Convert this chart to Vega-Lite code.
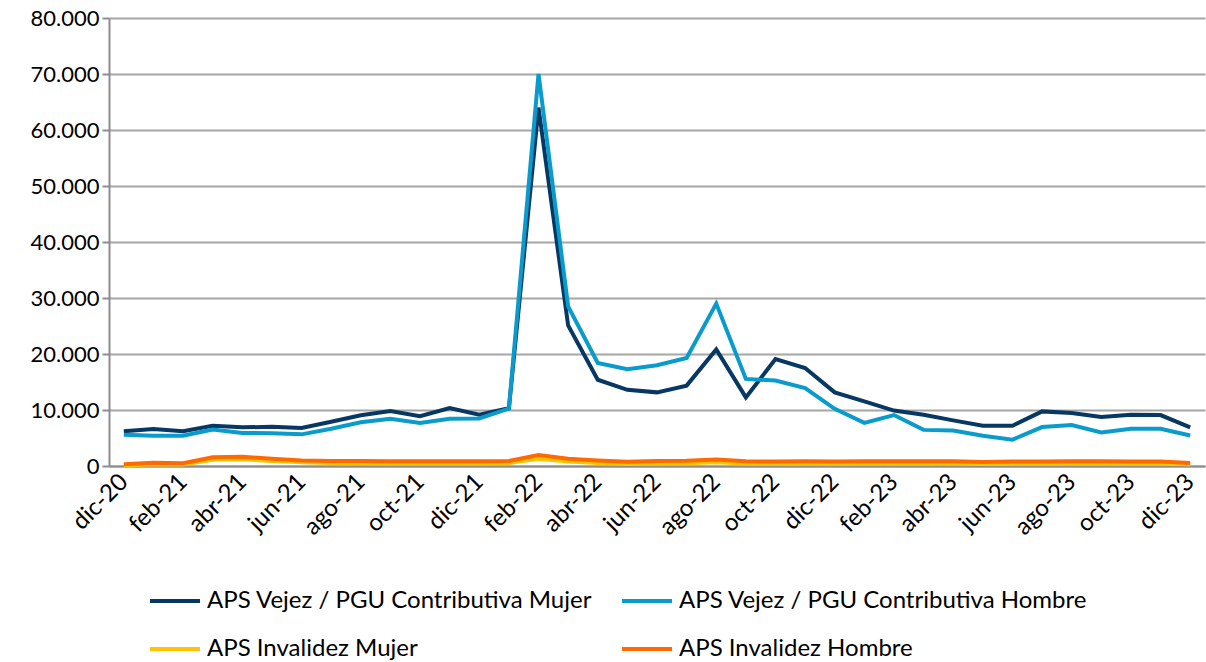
{
  "$schema": "https://vega.github.io/schema/vega-lite/v6.json",
  "autosize": {"type": "none"},
  "padding": {"left": 109, "top": 18, "right": 1, "bottom": 196},
  "width": 1096,
  "height": 448,
  "background": "white",
  "config": {
    "font": "Lato",
    "view": {"stroke": null}
  },
  "data": {
    "values": [
      {"mes":"dic-20","serie":"APS Vejez / PGU Contributiva Mujer","valor":6200},
      {"mes":"ene-21","serie":"APS Vejez / PGU Contributiva Mujer","valor":6600},
      {"mes":"feb-21","serie":"APS Vejez / PGU Contributiva Mujer","valor":6200},
      {"mes":"mar-21","serie":"APS Vejez / PGU Contributiva Mujer","valor":7200},
      {"mes":"abr-21","serie":"APS Vejez / PGU Contributiva Mujer","valor":6900},
      {"mes":"may-21","serie":"APS Vejez / PGU Contributiva Mujer","valor":7000},
      {"mes":"jun-21","serie":"APS Vejez / PGU Contributiva Mujer","valor":6800},
      {"mes":"jul-21","serie":"APS Vejez / PGU Contributiva Mujer","valor":7900},
      {"mes":"ago-21","serie":"APS Vejez / PGU Contributiva Mujer","valor":9050},
      {"mes":"sep-21","serie":"APS Vejez / PGU Contributiva Mujer","valor":9800},
      {"mes":"oct-21","serie":"APS Vejez / PGU Contributiva Mujer","valor":8900},
      {"mes":"nov-21","serie":"APS Vejez / PGU Contributiva Mujer","valor":10350},
      {"mes":"dic-21","serie":"APS Vejez / PGU Contributiva Mujer","valor":9150},
      {"mes":"ene-22","serie":"APS Vejez / PGU Contributiva Mujer","valor":10300},
      {"mes":"feb-22","serie":"APS Vejez / PGU Contributiva Mujer","valor":64000},
      {"mes":"mar-22","serie":"APS Vejez / PGU Contributiva Mujer","valor":25100},
      {"mes":"abr-22","serie":"APS Vejez / PGU Contributiva Mujer","valor":15400},
      {"mes":"may-22","serie":"APS Vejez / PGU Contributiva Mujer","valor":13600},
      {"mes":"jun-22","serie":"APS Vejez / PGU Contributiva Mujer","valor":13150},
      {"mes":"jul-22","serie":"APS Vejez / PGU Contributiva Mujer","valor":14350},
      {"mes":"ago-22","serie":"APS Vejez / PGU Contributiva Mujer","valor":20800},
      {"mes":"sep-22","serie":"APS Vejez / PGU Contributiva Mujer","valor":12250},
      {"mes":"oct-22","serie":"APS Vejez / PGU Contributiva Mujer","valor":19100},
      {"mes":"nov-22","serie":"APS Vejez / PGU Contributiva Mujer","valor":17500},
      {"mes":"dic-22","serie":"APS Vejez / PGU Contributiva Mujer","valor":13150},
      {"mes":"ene-23","serie":"APS Vejez / PGU Contributiva Mujer","valor":11550},
      {"mes":"feb-23","serie":"APS Vejez / PGU Contributiva Mujer","valor":9900},
      {"mes":"mar-23","serie":"APS Vejez / PGU Contributiva Mujer","valor":9150},
      {"mes":"abr-23","serie":"APS Vejez / PGU Contributiva Mujer","valor":8150},
      {"mes":"may-23","serie":"APS Vejez / PGU Contributiva Mujer","valor":7200},
      {"mes":"jun-23","serie":"APS Vejez / PGU Contributiva Mujer","valor":7200},
      {"mes":"jul-23","serie":"APS Vejez / PGU Contributiva Mujer","valor":9750},
      {"mes":"ago-23","serie":"APS Vejez / PGU Contributiva Mujer","valor":9450},
      {"mes":"sep-23","serie":"APS Vejez / PGU Contributiva Mujer","valor":8750},
      {"mes":"oct-23","serie":"APS Vejez / PGU Contributiva Mujer","valor":9150},
      {"mes":"nov-23","serie":"APS Vejez / PGU Contributiva Mujer","valor":9100},
      {"mes":"dic-23","serie":"APS Vejez / PGU Contributiva Mujer","valor":6900},

      {"mes":"dic-20","serie":"APS Vejez / PGU Contributiva Hombre","valor":5600},
      {"mes":"ene-21","serie":"APS Vejez / PGU Contributiva Hombre","valor":5400},
      {"mes":"feb-21","serie":"APS Vejez / PGU Contributiva Hombre","valor":5400},
      {"mes":"mar-21","serie":"APS Vejez / PGU Contributiva Hombre","valor":6500},
      {"mes":"abr-21","serie":"APS Vejez / PGU Contributiva Hombre","valor":5900},
      {"mes":"may-21","serie":"APS Vejez / PGU Contributiva Hombre","valor":5850},
      {"mes":"jun-21","serie":"APS Vejez / PGU Contributiva Hombre","valor":5650},
      {"mes":"jul-21","serie":"APS Vejez / PGU Contributiva Hombre","valor":6650},
      {"mes":"ago-21","serie":"APS Vejez / PGU Contributiva Hombre","valor":7800},
      {"mes":"sep-21","serie":"APS Vejez / PGU Contributiva Hombre","valor":8450},
      {"mes":"oct-21","serie":"APS Vejez / PGU Contributiva Hombre","valor":7700},
      {"mes":"nov-21","serie":"APS Vejez / PGU Contributiva Hombre","valor":8450},
      {"mes":"dic-21","serie":"APS Vejez / PGU Contributiva Hombre","valor":8500},
      {"mes":"ene-22","serie":"APS Vejez / PGU Contributiva Hombre","valor":10250},
      {"mes":"feb-22","serie":"APS Vejez / PGU Contributiva Hombre","valor":70000},
      {"mes":"mar-22","serie":"APS Vejez / PGU Contributiva Hombre","valor":28500},
      {"mes":"abr-22","serie":"APS Vejez / PGU Contributiva Hombre","valor":18400},
      {"mes":"may-22","serie":"APS Vejez / PGU Contributiva Hombre","valor":17300},
      {"mes":"jun-22","serie":"APS Vejez / PGU Contributiva Hombre","valor":18000},
      {"mes":"jul-22","serie":"APS Vejez / PGU Contributiva Hombre","valor":19300},
      {"mes":"ago-22","serie":"APS Vejez / PGU Contributiva Hombre","valor":29000},
      {"mes":"sep-22","serie":"APS Vejez / PGU Contributiva Hombre","valor":15550},
      {"mes":"oct-22","serie":"APS Vejez / PGU Contributiva Hombre","valor":15250},
      {"mes":"nov-22","serie":"APS Vejez / PGU Contributiva Hombre","valor":13900},
      {"mes":"dic-22","serie":"APS Vejez / PGU Contributiva Hombre","valor":10200},
      {"mes":"ene-23","serie":"APS Vejez / PGU Contributiva Hombre","valor":7700},
      {"mes":"feb-23","serie":"APS Vejez / PGU Contributiva Hombre","valor":9100},
      {"mes":"mar-23","serie":"APS Vejez / PGU Contributiva Hombre","valor":6450},
      {"mes":"abr-23","serie":"APS Vejez / PGU Contributiva Hombre","valor":6350},
      {"mes":"may-23","serie":"APS Vejez / PGU Contributiva Hombre","valor":5400},
      {"mes":"jun-23","serie":"APS Vejez / PGU Contributiva Hombre","valor":4700},
      {"mes":"jul-23","serie":"APS Vejez / PGU Contributiva Hombre","valor":6950},
      {"mes":"ago-23","serie":"APS Vejez / PGU Contributiva Hombre","valor":7300},
      {"mes":"sep-23","serie":"APS Vejez / PGU Contributiva Hombre","valor":6000},
      {"mes":"oct-23","serie":"APS Vejez / PGU Contributiva Hombre","valor":6650},
      {"mes":"nov-23","serie":"APS Vejez / PGU Contributiva Hombre","valor":6650},
      {"mes":"dic-23","serie":"APS Vejez / PGU Contributiva Hombre","valor":5450},

      {"mes":"dic-20","serie":"APS Invalidez Mujer","valor":100},
      {"mes":"ene-21","serie":"APS Invalidez Mujer","valor":300},
      {"mes":"feb-21","serie":"APS Invalidez Mujer","valor":250},
      {"mes":"mar-21","serie":"APS Invalidez Mujer","valor":1100},
      {"mes":"abr-21","serie":"APS Invalidez Mujer","valor":1200},
      {"mes":"may-21","serie":"APS Invalidez Mujer","valor":900},
      {"mes":"jun-21","serie":"APS Invalidez Mujer","valor":650},
      {"mes":"jul-21","serie":"APS Invalidez Mujer","valor":550},
      {"mes":"ago-21","serie":"APS Invalidez Mujer","valor":550},
      {"mes":"sep-21","serie":"APS Invalidez Mujer","valor":500},
      {"mes":"oct-21","serie":"APS Invalidez Mujer","valor":500},
      {"mes":"nov-21","serie":"APS Invalidez Mujer","valor":500},
      {"mes":"dic-21","serie":"APS Invalidez Mujer","valor":500},
      {"mes":"ene-22","serie":"APS Invalidez Mujer","valor":550},
      {"mes":"feb-22","serie":"APS Invalidez Mujer","valor":1300},
      {"mes":"mar-22","serie":"APS Invalidez Mujer","valor":800},
      {"mes":"abr-22","serie":"APS Invalidez Mujer","valor":550},
      {"mes":"may-22","serie":"APS Invalidez Mujer","valor":350},
      {"mes":"jun-22","serie":"APS Invalidez Mujer","valor":450},
      {"mes":"jul-22","serie":"APS Invalidez Mujer","valor":500},
      {"mes":"ago-22","serie":"APS Invalidez Mujer","valor":650},
      {"mes":"sep-22","serie":"APS Invalidez Mujer","valor":450},
      {"mes":"oct-22","serie":"APS Invalidez Mujer","valor":400},
      {"mes":"nov-22","serie":"APS Invalidez Mujer","valor":450},
      {"mes":"dic-22","serie":"APS Invalidez Mujer","valor":400},
      {"mes":"ene-23","serie":"APS Invalidez Mujer","valor":450},
      {"mes":"feb-23","serie":"APS Invalidez Mujer","valor":450},
      {"mes":"mar-23","serie":"APS Invalidez Mujer","valor":450},
      {"mes":"abr-23","serie":"APS Invalidez Mujer","valor":450},
      {"mes":"may-23","serie":"APS Invalidez Mujer","valor":350},
      {"mes":"jun-23","serie":"APS Invalidez Mujer","valor":400},
      {"mes":"jul-23","serie":"APS Invalidez Mujer","valor":400},
      {"mes":"ago-23","serie":"APS Invalidez Mujer","valor":450},
      {"mes":"sep-23","serie":"APS Invalidez Mujer","valor":450},
      {"mes":"oct-23","serie":"APS Invalidez Mujer","valor":400},
      {"mes":"nov-23","serie":"APS Invalidez Mujer","valor":400},
      {"mes":"dic-23","serie":"APS Invalidez Mujer","valor":300},

      {"mes":"dic-20","serie":"APS Invalidez Hombre","valor":300},
      {"mes":"ene-21","serie":"APS Invalidez Hombre","valor":600},
      {"mes":"feb-21","serie":"APS Invalidez Hombre","valor":480},
      {"mes":"mar-21","serie":"APS Invalidez Hombre","valor":1550},
      {"mes":"abr-21","serie":"APS Invalidez Hombre","valor":1650},
      {"mes":"may-21","serie":"APS Invalidez Hombre","valor":1300},
      {"mes":"jun-21","serie":"APS Invalidez Hombre","valor":1000},
      {"mes":"jul-21","serie":"APS Invalidez Hombre","valor":900},
      {"mes":"ago-21","serie":"APS Invalidez Hombre","valor":900},
      {"mes":"sep-21","serie":"APS Invalidez Hombre","valor":850},
      {"mes":"oct-21","serie":"APS Invalidez Hombre","valor":850},
      {"mes":"nov-21","serie":"APS Invalidez Hombre","valor":850},
      {"mes":"dic-21","serie":"APS Invalidez Hombre","valor":850},
      {"mes":"ene-22","serie":"APS Invalidez Hombre","valor":900},
      {"mes":"feb-22","serie":"APS Invalidez Hombre","valor":1950},
      {"mes":"mar-22","serie":"APS Invalidez Hombre","valor":1300},
      {"mes":"abr-22","serie":"APS Invalidez Hombre","valor":1000},
      {"mes":"may-22","serie":"APS Invalidez Hombre","valor":750},
      {"mes":"jun-22","serie":"APS Invalidez Hombre","valor":900},
      {"mes":"jul-22","serie":"APS Invalidez Hombre","valor":950},
      {"mes":"ago-22","serie":"APS Invalidez Hombre","valor":1150},
      {"mes":"sep-22","serie":"APS Invalidez Hombre","valor":850},
      {"mes":"oct-22","serie":"APS Invalidez Hombre","valor":800},
      {"mes":"nov-22","serie":"APS Invalidez Hombre","valor":850},
      {"mes":"dic-22","serie":"APS Invalidez Hombre","valor":800},
      {"mes":"ene-23","serie":"APS Invalidez Hombre","valor":850},
      {"mes":"feb-23","serie":"APS Invalidez Hombre","valor":850},
      {"mes":"mar-23","serie":"APS Invalidez Hombre","valor":850},
      {"mes":"abr-23","serie":"APS Invalidez Hombre","valor":850},
      {"mes":"may-23","serie":"APS Invalidez Hombre","valor":700},
      {"mes":"jun-23","serie":"APS Invalidez Hombre","valor":800},
      {"mes":"jul-23","serie":"APS Invalidez Hombre","valor":800},
      {"mes":"ago-23","serie":"APS Invalidez Hombre","valor":850},
      {"mes":"sep-23","serie":"APS Invalidez Hombre","valor":850},
      {"mes":"oct-23","serie":"APS Invalidez Hombre","valor":800},
      {"mes":"nov-23","serie":"APS Invalidez Hombre","valor":800},
      {"mes":"dic-23","serie":"APS Invalidez Hombre","valor":550}
    ]
  },
  "mark": {"type": "line", "strokeWidth": 4, "strokeJoin": "miter", "strokeCap": "butt"},
  "encoding": {
    "x": {
      "field": "mes",
      "type": "ordinal",
      "sort": null,
      "scale": {"type": "point", "padding": 0.5},
      "axis": {
        "title": null,
        "values": ["dic-20","feb-21","abr-21","jun-21","ago-21","oct-21","dic-21","feb-22","abr-22","jun-22","ago-22","oct-22","dic-22","feb-23","abr-23","jun-23","ago-23","oct-23","dic-23"],
        "labelAngle": -45,
        "labelAlign": "right",
        "labelBaseline": "middle",
        "labelFontSize": 24,
        "labelColor": "#000000",
        "labelPadding": 12,
        "ticks": false,
        "domainColor": "#8C8C8C",
        "domainWidth": 2,
        "grid": false,
        "labelOverlap": false
      }
    },
    "y": {
      "field": "valor",
      "type": "quantitative",
      "scale": {"domain": [0, 80000], "nice": false},
      "axis": {
        "title": null,
        "values": [0,10000,20000,30000,40000,50000,60000,70000,80000],
        "labelExpr": "replace(format(datum.value, ','), ',', '.')",
        "labelFontSize": 22,
        "labelColor": "#000000",
        "labelPadding": 3,
        "tickSize": 7,
        "tickColor": "#8C8C8C",
        "tickWidth": 2,
        "domainColor": "#8C8C8C",
        "domainWidth": 2,
        "gridColor": "#A6A6A6",
        "gridWidth": 2
      }
    },
    "color": {
      "field": "serie",
      "type": "nominal",
      "sort": null,
      "scale": {
        "domain": ["APS Vejez / PGU Contributiva Mujer", "APS Vejez / PGU Contributiva Hombre", "APS Invalidez Mujer", "APS Invalidez Hombre"],
        "range": ["#073763", "#0A9BCD", "#FFC400", "#FF6A00"]
      },
      "legend": {
        "title": null,
        "orient": "none",
        "legendX": 39,
        "legendY": 556,
        "direction": "horizontal",
        "columns": 2,
        "symbolType": "stroke",
        "symbolSize": 2500,
        "symbolStrokeWidth": 4,
        "labelFontSize": 24,
        "labelColor": "#000000",
        "labelOffset": 5,
        "rowPadding": 9,
        "columnPadding": 21,
        "labelLimit": 600
      }
    }
  }
}
